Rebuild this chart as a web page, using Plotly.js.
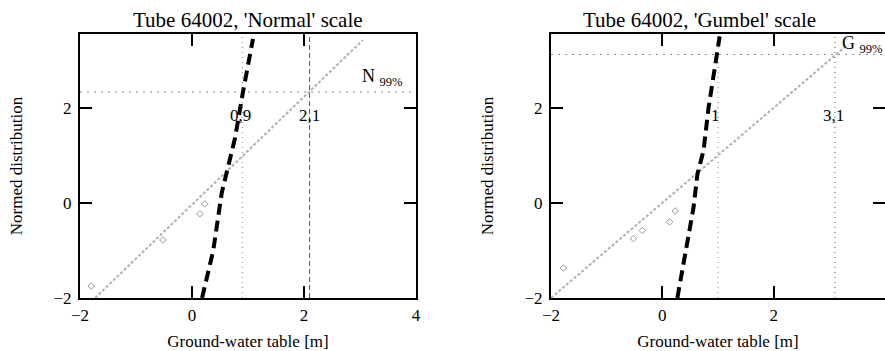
<!DOCTYPE html>
<html><head><meta charset="utf-8">
<script src="https://cdn.plot.ly/plotly-3.0.1.min.js"></script>
<style>html,body{margin:0;padding:0;background:#fff}#c{width:885px;height:351px}</style>
</head><body><div id="c"></div>
<script>
// ---- data ----
const titles = ["Tube 64002, 'Normal' scale", "Tube 64002, 'Gumbel' scale"];
const xTitle = "Ground-water table [m]";
const yTitle = "Normed distribution";
const xTicks = [-2, 0, 2, 4];
const yTicks = [-2, 0, 2];

// Normal scale
const nFitX = [-1.73, 3.05];
const nFitY = [-2.0, 3.42];
const nOutX = [-1.8, -0.52, 0.14, 0.23];
const nOutY = [-1.75, -0.78, -0.23, -0.02];
const nSteepX = [0.18, 0.38, 0.53, 0.64, 0.77, 0.91, 1.09];
const nSteepY = [-2.0, -1.0, 0.2, 0.74, 1.37, 2.33, 3.45];
const n99 = 2.33;
const nQ = [0.9, 2.1];
const nQLabels = ["0,9", "2,1"];

// Gumbel scale
const gFitX = [-2.0, 3.3];
const gFitY = [-2.0, 3.3];
const gOutX = [-1.78, -0.52, -0.36, 0.13, 0.23];
const gOutY = [-1.37, -0.75, -0.58, -0.4, -0.17];
const gSteepX = [0.27, 0.43, 0.56, 0.63, 0.74, 0.83, 0.97, 1.03];
const gSteepY = [-2.0, -1.0, -0.1, 0.6, 1.1, 2.0, 3.12, 3.5];
const g99 = 3.12;
const gQ = [1.0, 3.1];
const gQLabels = ["1", "3,1"];

const xr = [-2, 4], yr = [-2, 3.55];
const font = "Liberation Serif, Times New Roman, serif";

function panel(xa, ya, fitX, fitY, outX, outY, stX, stY, p99, q) {
  return [
    {x: xr, y: [p99, p99], xaxis: xa, yaxis: ya, mode: 'lines',
     line: {color: '#888', width: 1, dash: '2px,5px'}, hoverinfo: 'skip'},
    {x: [q[0], q[0]], y: yr, xaxis: xa, yaxis: ya, mode: 'lines',
     line: {color: '#888', width: 1, dash: '1px,4px'}, hoverinfo: 'skip'},
    {x: [q[1], q[1]], y: yr, xaxis: xa, yaxis: ya, mode: 'lines',
     line: {color: '#555', width: 1, dash: xa === 'x' ? '5px,3px' : '1px,4px'}, hoverinfo: 'skip'},
    {x: fitX, y: fitY, xaxis: xa, yaxis: ya, mode: 'lines',
     line: {color: '#b0b0b0', width: 2, dash: '3px,2px'}},
    {x: outX, y: outY, xaxis: xa, yaxis: ya, mode: 'markers',
     marker: {symbol: 'diamond-open', size: 5, color: '#999', line: {width: 1}}},
    {x: stX, y: stY, xaxis: xa, yaxis: ya, mode: 'lines',
     line: {color: '#000', width: 4, dash: '11px,6px'}}
  ];
}

const data = [].concat(
  panel('x', 'y', nFitX, nFitY, nOutX, nOutY, nSteepX, nSteepY, n99, nQ),
  panel('x2', 'y2', gFitX, gFitY, gOutX, gOutY, gSteepX, gSteepY, g99, gQ)
);

function xax(domain, anchor) {
  return {domain: domain, anchor: anchor, range: xr, tickvals: xTicks,
    ticks: 'inside', ticklen: 12, tickwidth: 2, tickcolor: '#000', mirror: 'ticks',
    showline: true, linecolor: '#000', linewidth: 2, showgrid: false, zeroline: false,
    tickfont: {family: font, size: 17, color: '#000'}, ticklabelstandoff: 1,
    title: {text: xTitle, font: {family: font, size: 17, color: '#000'}, standoff: 14}};
}
function yax(domain, anchor) {
  return {domain: domain, anchor: anchor, range: yr, tickvals: yTicks,
    ticks: 'inside', ticklen: 12, tickwidth: 2, tickcolor: '#000', mirror: 'ticks',
    showline: true, linecolor: '#000', linewidth: 2, showgrid: false, zeroline: false,
    tickfont: {family: font, size: 17, color: '#000'}, ticklabelstandoff: 3,
    title: {text: yTitle, font: {family: font, size: 17, color: '#000'}, standoff: 27}};
}

const ann = [];
function addAnn(xref, yref, x, y, text, size, xanchor) {
  ann.push({xref: xref, yref: yref, x: x, y: y, text: text, showarrow: false,
    font: {family: font, size: size, color: '#000'}, xanchor: xanchor || 'center', yanchor: 'middle'});
}
addAnn('paper', 'paper', 0.28, 0.943, titles[0], 21);
addAnn('paper', 'paper', 0.79, 0.943, titles[1], 21);
addAnn('x', 'y', nQ[0] - 0.04, 1.83, nQLabels[0], 17);
addAnn('x', 'y', nQ[1], 1.83, nQLabels[1], 17);
addAnn('x', 'y', 3.0, 2.64, "N <sub>99%</sub>", 18, 'left');
addAnn('x2', 'y2', gQ[0] - 0.05, 1.83, gQLabels[0], 17);
addAnn('x2', 'y2', gQ[1] - 0.03, 1.83, gQLabels[1], 17);
addAnn('x2', 'y2', 3.2, 3.33, "G <sub>99%</sub>", 18, 'left');

const layout = {
  width: 885, height: 351, showlegend: false,
  margin: {l: 0, r: 0, t: 0, b: 0},
  paper_bgcolor: '#fff', plot_bgcolor: '#fff',
  xaxis: xax([0.0904, 0.470], 'y'),
  yaxis: yax([0.151, 0.903], 'x'),
  xaxis2: xax([0.6226, 1.0], 'y2'),
  yaxis2: yax([0.151, 0.903], 'x2'),
  annotations: ann
};
Plotly.newPlot('c', data, layout, {displayModeBar: false, staticPlot: true});
</script></body></html>
